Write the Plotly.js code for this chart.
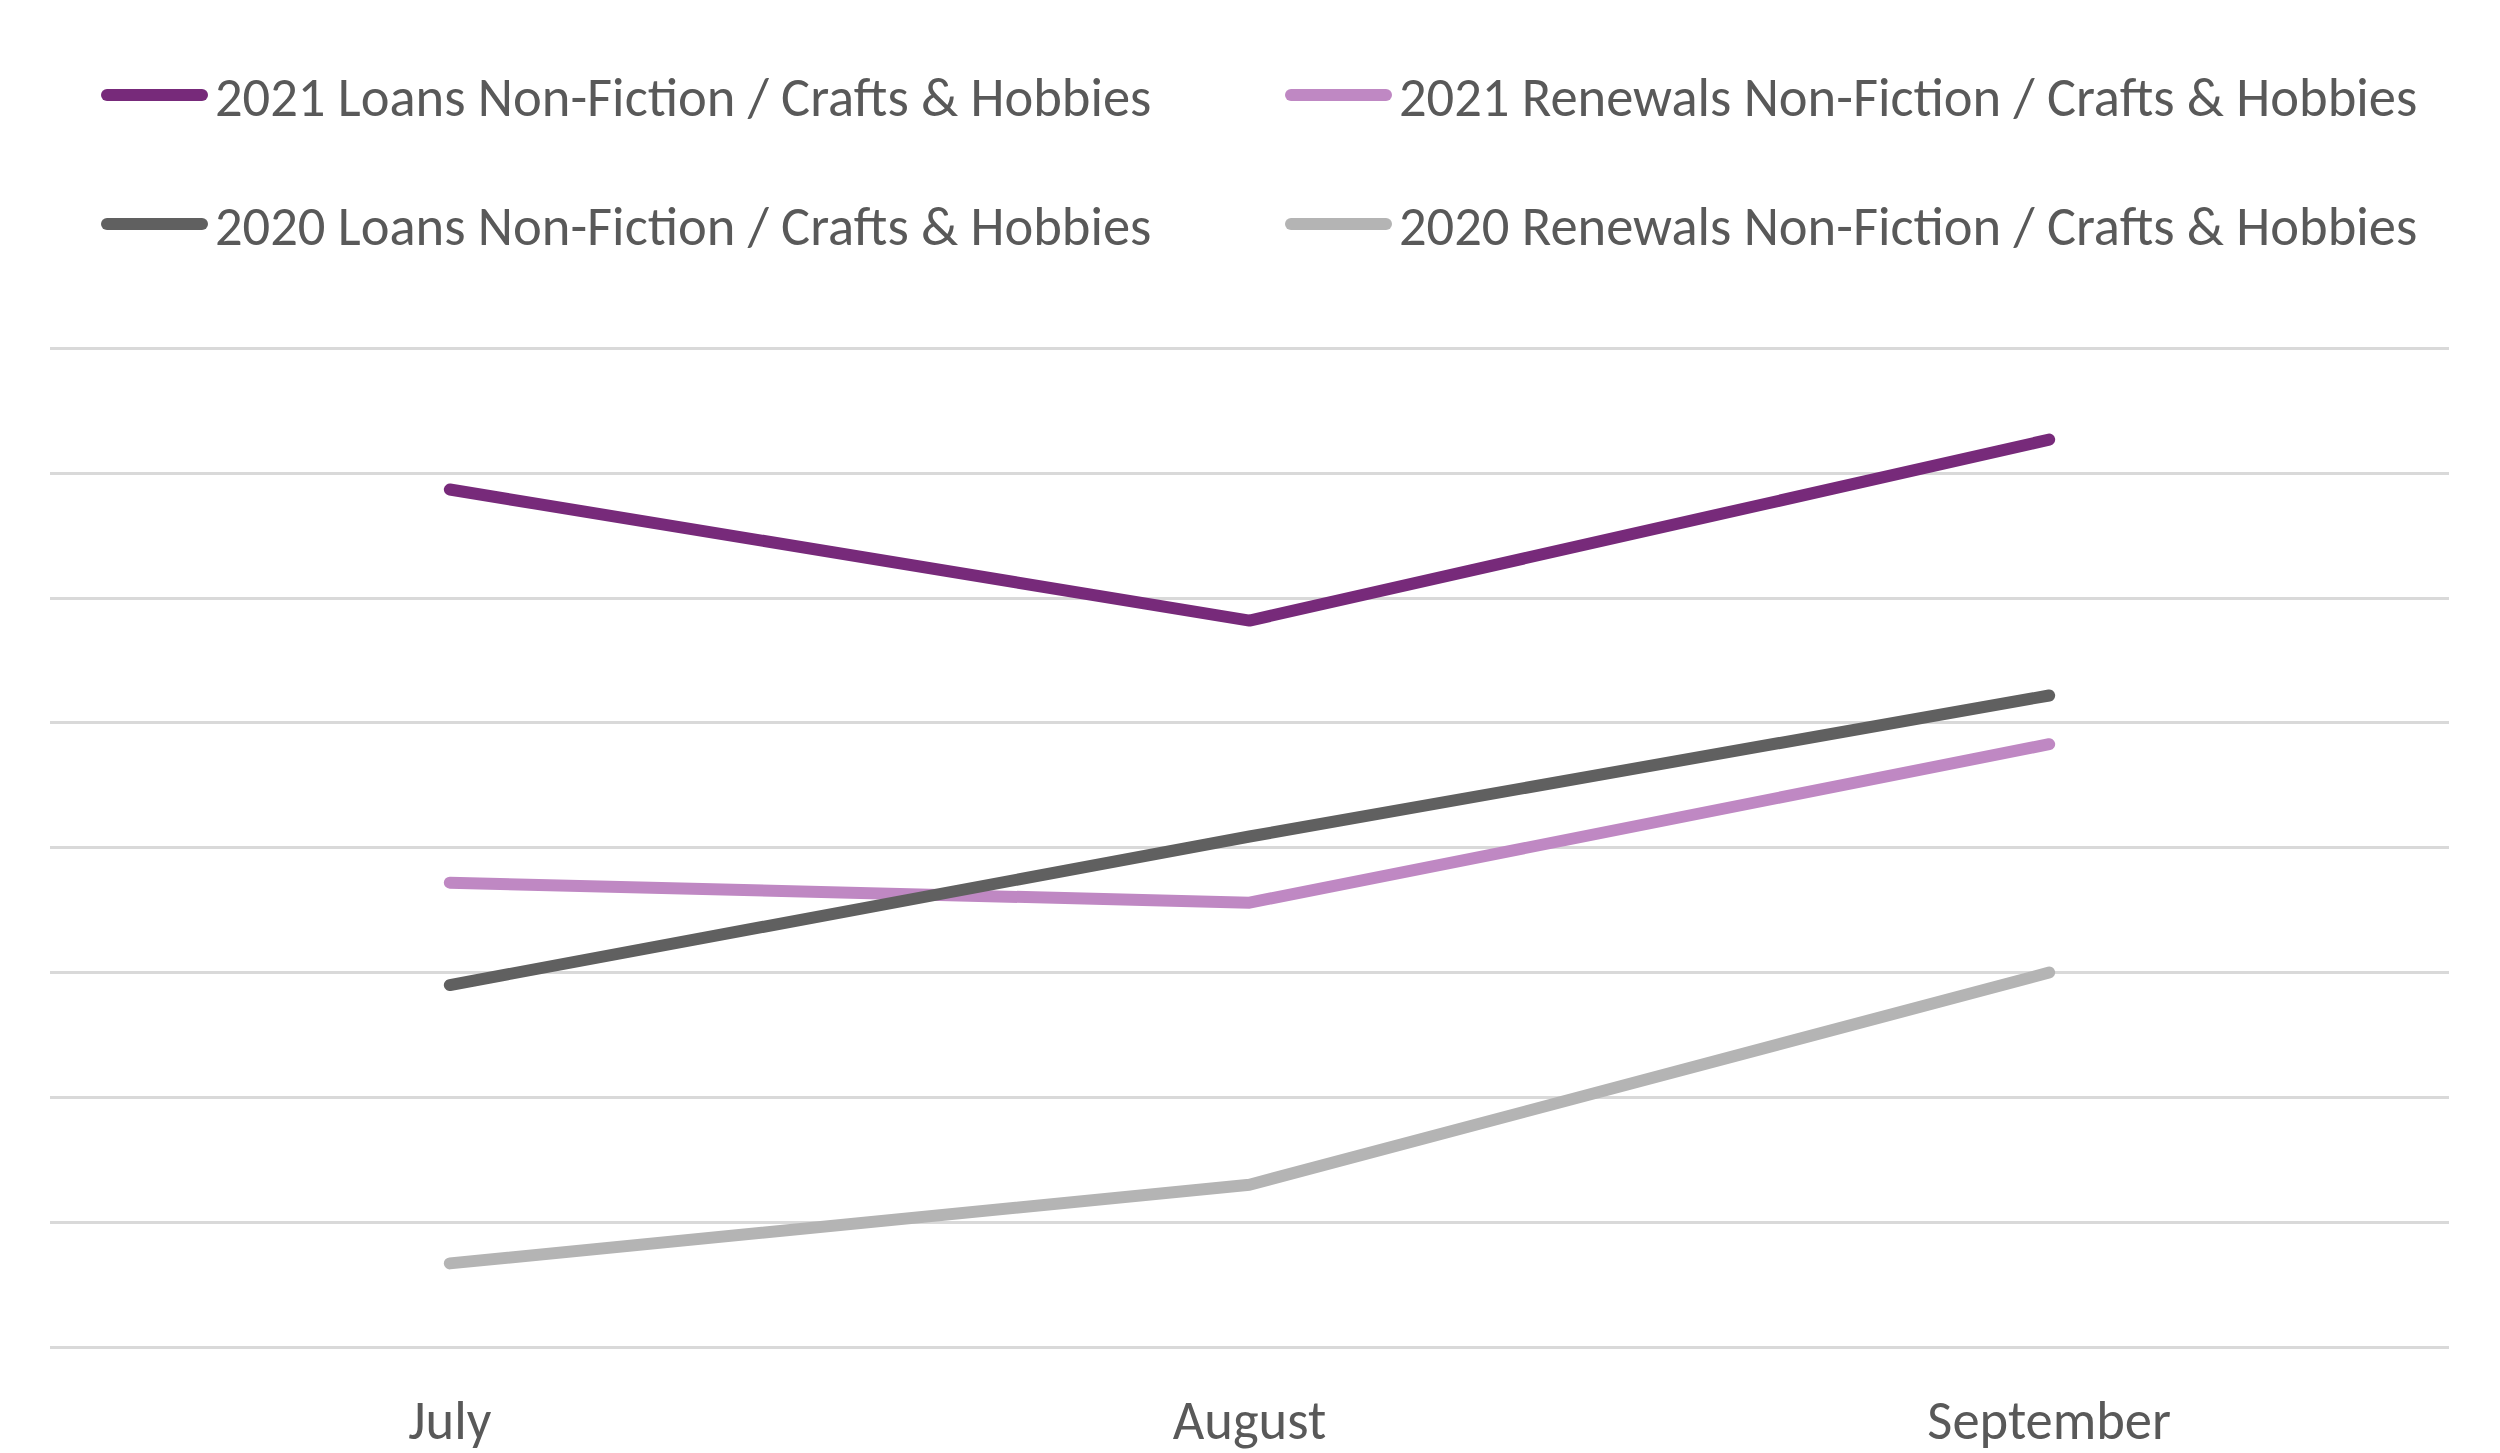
<!DOCTYPE html>
<html>
<head>
<meta charset="utf-8">
<script src="https://cdn.plot.ly/plotly-3.0.1.min.js"></script>
<style>
  html, body { margin: 0; padding: 0; background: #fff; }
  #chart { width: 2500px; height: 1453px; }
  /* Excel-style rounded line ends */
  #chart .scatterlayer .js-line { stroke-linecap: round; stroke-linejoin: round; }
</style>
</head>
<body>
<div id="chart"></div>
<script>
const months = ["July", "August", "September"];

const loans2021 = [6.87, 5.82, 7.27];
const renewals2021 = [3.72, 3.56, 4.83];
const loans2020 = [2.90, 4.09, 5.22];
const renewals2020 = [0.67, 1.30, 3.00];

const names = [
  "2021 Loans Non-Fiction / Crafts & Hobbies",
  "2021 Renewals Non-Fiction / Crafts & Hobbies",
  "2020 Loans Non-Fiction / Crafts & Hobbies",
  "2020 Renewals Non-Fiction / Crafts & Hobbies"
];

const FONT = "Carlito, Lato, 'Noto Sans', sans-serif";
const TEXT = "#595959";
const LINE_W = 12;

function line(y, name, color, legend) {
  return {
    x: months,
    y: y,
    name: name,
    mode: "lines",
    legend: legend,
    line: { color: color, width: LINE_W },
    hoverinfo: "skip"
  };
}

// one legend per entry so the 2x2 grid can be placed like the original
const traces = [
  line(loans2021, names[0], "#772A7A", "legend"),
  line(renewals2021, names[1], "#BF88C3", "legend2"),
  line(loans2020, names[2], "#606060", "legend3"),
  line(renewals2020, names[3], "#B4B4B4", "legend4")
];

function legendAt(x, y) {
  return {
    orientation: "h",
    xref: "container",
    yref: "container",
    xanchor: "left",
    yanchor: "middle",
    x: x,
    y: y,
    itemwidth: 110,
    bgcolor: "rgba(0,0,0,0)",
    font: { family: FONT, size: 54.5, color: TEXT }
  };
}

const layout = {
  width: 2500,
  height: 1453,
  margin: { l: 50, r: 51, t: 346, b: 106 },
  paper_bgcolor: "#fff",
  plot_bgcolor: "#fff",
  showlegend: true,
  legend: legendAt(95 / 2500, 1 - 95 / 1453),
  legend2: legendAt(1279 / 2500, 1 - 95 / 1453),
  legend3: legendAt(95 / 2500, 1 - 224 / 1453),
  legend4: legendAt(1279 / 2500, 1 - 224 / 1453),
  xaxis: {
    type: "category",
    range: [-0.5, 2.5],
    showgrid: false,
    zeroline: false,
    showline: false,
    ticks: "",
    ticklabelstandoff: 36,
    tickfont: { family: FONT, size: 54.5, color: TEXT }
  },
  yaxis: {
    range: [0, 8.02],
    dtick: 1,
    showticklabels: false,
    showgrid: true,
    gridcolor: "#d9d9d9",
    gridwidth: 3,
    zeroline: true,
    zerolinecolor: "#d9d9d9",
    zerolinewidth: 3,
    showline: false
  }
};

Plotly.newPlot("chart", traces, layout, { displayModeBar: false, staticPlot: true })
  .then(function (gd) {
    // plotly draws a short, thin legend sample; stretch it like the original
    gd.querySelectorAll(".legendlines path").forEach(function (p) {
      p.setAttribute("d", "M12,0h95");
      p.style.strokeWidth = LINE_W + "px";
      p.style.strokeLinecap = "round";
    });
  });
</script>
</body>
</html>
